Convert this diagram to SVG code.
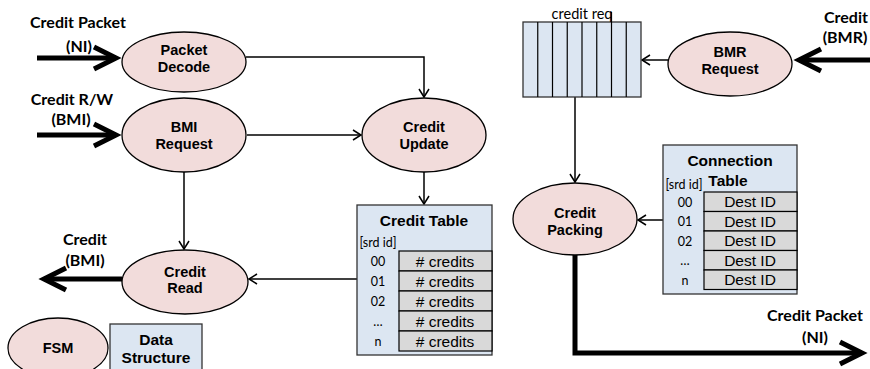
<svg xmlns="http://www.w3.org/2000/svg" width="870" height="369" viewBox="0 0 870 369">
<style>
.fsm{fill:#f2dcdb;stroke:#000;stroke-width:1.3}
.box{fill:#dce6f2;stroke:#333;stroke-width:1.3}
.cell{fill:#d9d9d9;stroke:#000;stroke-width:1.2}
.lbl{font-family:"Liberation Sans",Arial,sans-serif;font-weight:bold;font-size:14.5px;text-anchor:middle;fill:#000}
.ttl{font-family:"Liberation Sans",Arial,sans-serif;font-weight:bold;font-size:15.5px;text-anchor:middle;fill:#000}
.cel{font-family:"Liberation Sans",Arial,sans-serif;font-size:15.5px;text-anchor:middle;fill:#000}
.ext{font-family:Lato,"Liberation Sans",sans-serif;font-weight:bold;font-size:16px;text-anchor:middle;fill:#000}
.sm{font-family:Lato,"Liberation Sans",sans-serif;font-size:12.5px;text-anchor:middle;fill:#000}
.q{font-family:Lato,"Liberation Sans",sans-serif;font-size:14.5px;text-anchor:middle;fill:#000}
.thin{fill:none;stroke:#000;stroke-width:1.5;marker-end:url(#ah)}
.thick{fill:none;stroke:#000;stroke-width:5;stroke-linejoin:miter;marker-end:url(#th)}
</style>
<defs>
<marker id="ah" markerWidth="14" markerHeight="14" viewBox="-11 -7 14 14" refX="0" refY="0" orient="auto" markerUnits="userSpaceOnUse">
<path d="M-8,-5 L0,0 L-8,5" fill="none" stroke="#000" stroke-width="1.5"/>
</marker>
<marker id="th" markerWidth="40" markerHeight="40" viewBox="-30 -20 40 40" refX="0" refY="0" orient="auto" markerUnits="userSpaceOnUse">
<path d="M-22,-11 L0,0 L-22,11" fill="none" stroke="#000" stroke-width="5" stroke-linejoin="miter"/>
</marker>
</defs>
<rect width="870" height="369" fill="#fff"/>

<g id="connectors">
<polyline class="thin" points="246,57 424,57 424,97"/>
<line class="thin" x1="247" y1="135" x2="361" y2="135"/>
<line class="thin" x1="424" y1="172" x2="424" y2="204"/>
<line class="thin" x1="184" y1="172" x2="184" y2="249"/>
<line class="thin" x1="357" y1="279" x2="249" y2="279"/>
<line class="thin" x1="668" y1="60" x2="642" y2="60"/>
<line class="thin" x1="575" y1="97" x2="575" y2="182"/>
<line class="thin" x1="663" y1="220" x2="638" y2="220"/>
<line class="thick" x1="37" y1="58" x2="116" y2="58"/>
<line class="thick" x1="37" y1="135" x2="116" y2="135"/>
<line class="thick" x1="122" y1="279" x2="44" y2="279"/>
<line class="thick" x1="872" y1="60" x2="799" y2="60"/>
<polyline class="thick" points="575,255 575,353 862,353"/>
</g>

<g id="labels">
<text class="ext" x="78" y="28">Credit Packet</text>
<text class="ext" x="79" y="52">(NI)</text>
<text class="ext" x="72" y="105">Credit R/W</text>
<text class="ext" x="71" y="125">(BMI)</text>
<text class="ext" x="85" y="245">Credit</text>
<text class="ext" x="85" y="266">(BMI)</text>
<text class="ext" x="846" y="23">Credit</text>
<text class="ext" x="845" y="43">(BMR)</text>
<text class="ext" x="815" y="321">Credit Packet</text>
<text class="ext" x="815" y="343">(NI)</text>
</g>

<g id="packet-decode">
<ellipse class="fsm" cx="184" cy="62" rx="62" ry="30"/>
<text class="lbl" x="184" y="55">Packet</text>
<text class="lbl" x="184" y="72">Decode</text>
</g>

<g id="bmi-request">
<ellipse class="fsm" cx="184" cy="135" rx="62" ry="37"/>
<text class="lbl" x="184" y="132">BMI</text>
<text class="lbl" x="184" y="149">Request</text>
</g>

<g id="credit-update">
<ellipse class="fsm" cx="424" cy="135" rx="62" ry="37"/>
<text class="lbl" x="424" y="132">Credit</text>
<text class="lbl" x="424" y="149">Update</text>
</g>

<g id="credit-read">
<ellipse class="fsm" cx="185" cy="282" rx="63" ry="32"/>
<text class="lbl" x="185" y="277">Credit</text>
<text class="lbl" x="185" y="293">Read</text>
</g>

<g id="credit-table">
<rect class="box" x="357" y="205" width="135" height="150"/>
<text class="ttl" x="424" y="226">Credit Table</text>
<text class="sm" x="378" y="247">[srd id]</text>
<rect class="cell" x="399" y="251" width="93" height="20"/>
<rect class="cell" x="399" y="271" width="93" height="20"/>
<rect class="cell" x="399" y="291" width="93" height="20"/>
<rect class="cell" x="399" y="311" width="93" height="20"/>
<rect class="cell" x="399" y="331" width="93" height="20"/>
<text class="cel" x="445" y="267">#&#160;credits</text>
<text class="cel" x="445" y="287">#&#160;credits</text>
<text class="cel" x="445" y="307">#&#160;credits</text>
<text class="cel" x="445" y="327">#&#160;credits</text>
<text class="cel" x="445" y="347">#&#160;credits</text>
<text class="sm" x="378" y="266">00</text>
<text class="sm" x="378" y="286">01</text>
<text class="sm" x="378" y="306">02</text>
<text class="sm" x="378" y="326">…</text>
<text class="sm" x="378" y="346">n</text>
</g>

<g id="credit-req-queue">
<rect class="box" x="523" y="22" width="118" height="75"/>
<g stroke="#000" stroke-width="1.2">
<line x1="537.75" y1="22" x2="537.75" y2="97"/>
<line x1="552.5" y1="22" x2="552.5" y2="97"/>
<line x1="567.25" y1="22" x2="567.25" y2="97"/>
<line x1="582" y1="22" x2="582" y2="97"/>
<line x1="596.75" y1="22" x2="596.75" y2="97"/>
<line x1="611.5" y1="12" x2="611.5" y2="97"/>
<line x1="626.25" y1="22" x2="626.25" y2="97"/>
</g>
<text class="q" x="582" y="19">credit req</text>
</g>

<g id="bmr-request">
<ellipse class="fsm" cx="730" cy="64" rx="62" ry="32"/>
<text class="lbl" x="730" y="57">BMR</text>
<text class="lbl" x="730" y="74">Request</text>
</g>

<g id="credit-packing">
<ellipse class="fsm" cx="575" cy="219" rx="62" ry="36"/>
<text class="lbl" x="575" y="218">Credit</text>
<text class="lbl" x="575" y="235">Packing</text>
</g>

<g id="connection-table">
<rect class="box" x="663" y="145" width="134" height="149"/>
<text class="ttl" x="730" y="166">Connection</text>
<text class="ttl" x="728" y="186">Table</text>
<text class="sm" x="684" y="189">[srd id]</text>
<rect class="cell" x="704" y="192" width="93" height="19.5"/>
<rect class="cell" x="704" y="211.5" width="93" height="19.5"/>
<rect class="cell" x="704" y="231" width="93" height="19.5"/>
<rect class="cell" x="704" y="250.5" width="93" height="19.5"/>
<rect class="cell" x="704" y="270" width="93" height="19.5"/>
<text class="cel" x="750" y="207">Dest ID</text>
<text class="cel" x="750" y="226.5">Dest ID</text>
<text class="cel" x="750" y="246">Dest ID</text>
<text class="cel" x="750" y="265.5">Dest ID</text>
<text class="cel" x="750" y="285">Dest ID</text>
<text class="sm" x="685" y="206.5">00</text>
<text class="sm" x="685" y="226">01</text>
<text class="sm" x="685" y="245.5">02</text>
<text class="sm" x="685" y="265">…</text>
<text class="sm" x="685" y="284.5">n</text>
</g>

<g id="legend-fsm">
<ellipse class="fsm" cx="58" cy="348" rx="50" ry="30"/>
<text class="lbl" x="58" y="353">FSM</text>
</g>

<g id="legend-data-structure">
<rect class="box" x="110" y="324" width="92" height="60"/>
<text class="ttl" x="156" y="345">Data</text>
<text class="ttl" x="156" y="363">Structure</text>
</g>
</svg>
